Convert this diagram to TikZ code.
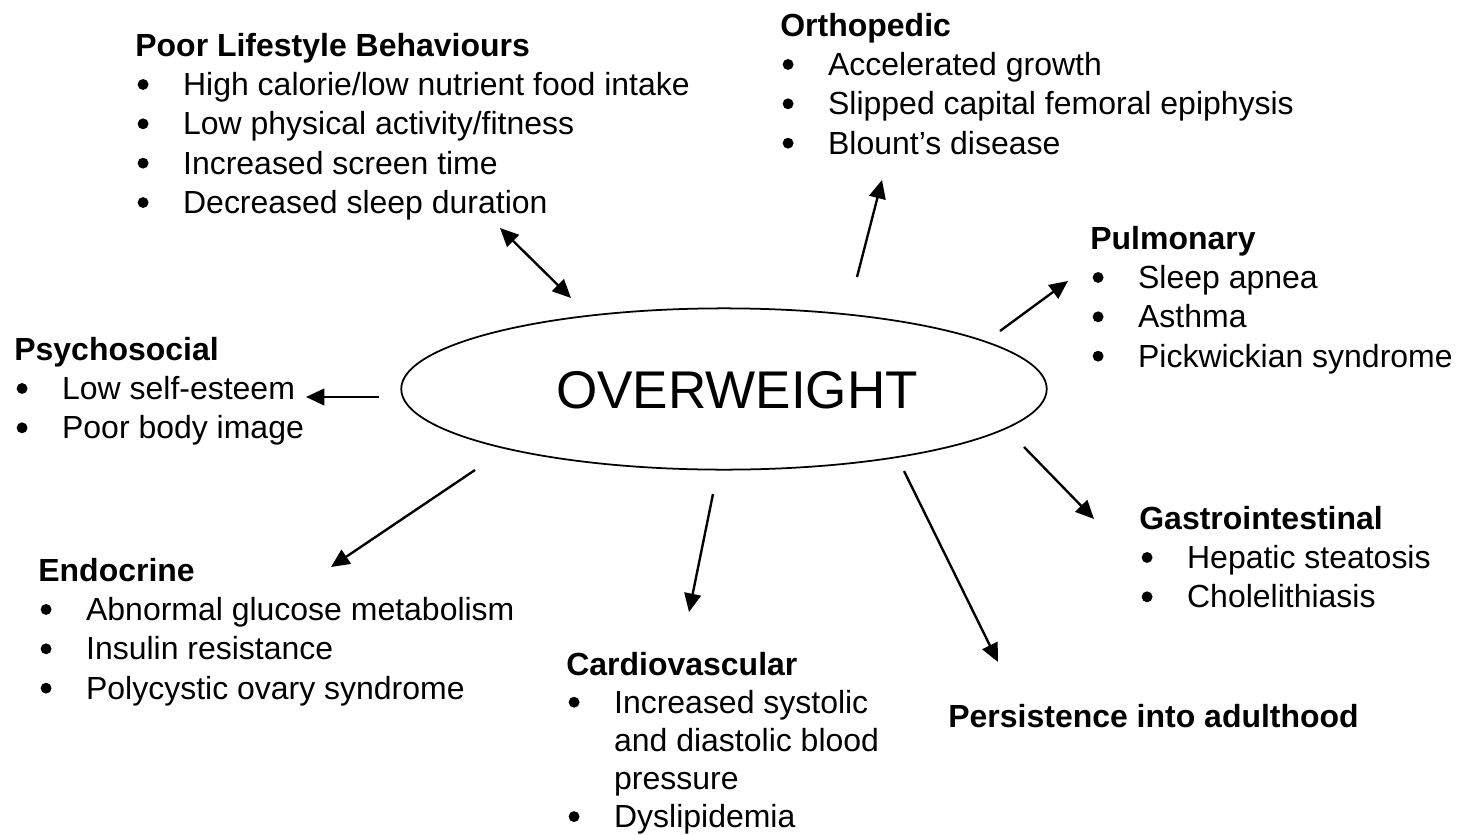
\documentclass[tikz,border=0pt]{standalone}
\usepackage{fontspec}
\setmainfont{Liberation Sans}
\usetikzlibrary{arrows.meta,shapes.geometric}
\newcommand{\bul}{\makebox[27.2pt][l]{\tikz[baseline=0pt]{\path (0,0); \fill (4.4pt,6.2pt) circle (3.1pt);}}}
\newcommand{\hd}[1]{\multicolumn{2}{@{}l@{}}{\textbf{#1}}}
\tikzset{
  grp/.style={anchor=base west, inner sep=0pt, font=\fontsize{18.2}{22.4}\selectfont},
  arr/.style={line width=1.35pt, -{Triangle[length=10.5pt,width=9.5pt]}},
  darr/.style={line width=1.35pt, {Triangle[length=10.5pt,width=9.5pt]}-{Triangle[length=10.5pt,width=9.5pt]}},
}
\begin{document}
\begin{tikzpicture}[x=0.02cm,y=-0.02cm]
\useasboundingbox[fill=white] (0,0) rectangle (1458,835);
% central ellipse
\node[draw, ellipse, line width=1pt, minimum width=367.4pt, minimum height=91.8pt, inner sep=0pt] (ell) at (724,389) {};
\node[inner sep=0pt, font=\fontsize{30.2}{36}\selectfont] (ow) at (737,390) {OVERWEIGHT};
% groups
\node[grp] (life) at (135,56) {\begin{tabular}[t]{@{}l@{}l@{}}
\hd{Poor Lifestyle Behaviours}\\
\bul & High calorie/low nutrient food intake\\
\bul & Low physical activity/fitness\\
\bul & Increased screen time\\
\bul & Decreased sleep duration
\end{tabular}};
\node[grp] (ortho) at (780,36) {\begin{tabular}[t]{@{}l@{}l@{}}
\hd{Orthopedic}\\
\bul & Accelerated growth\\
\bul & Slipped capital femoral epiphysis\\
\bul & Blount’s disease
\end{tabular}};
\node[grp] (pulm) at (1090,249) {\begin{tabular}[t]{@{}l@{}l@{}}
\hd{Pulmonary}\\
\bul & Sleep apnea\\
\bul & Asthma\\
\bul & Pickwickian syndrome
\end{tabular}};
\node[grp] (psych) at (14,360) {\begin{tabular}[t]{@{}l@{}l@{}}
\hd{Psychosocial}\\
\bul & Low self-esteem\\
\bul & Poor body image
\end{tabular}};
\node[grp] (endo) at (38,581) {\begin{tabular}[t]{@{}l@{}l@{}}
\hd{Endocrine}\\
\bul & Abnormal glucose metabolism\\
\bul & Insulin resistance\\
\bul & Polycystic ovary syndrome
\end{tabular}};
\node[grp, font=\fontsize{18.2}{21.7}\selectfont] (cardio) at (566,675) {\begin{tabular}[t]{@{}l@{}l@{}}
\hd{Cardiovascular}\\
\bul & Increased systolic\\
 & and diastolic blood\\
 & pressure\\
\bul & Dyslipidemia
\end{tabular}};
\node[grp] (gastro) at (1139,529) {\begin{tabular}[t]{@{}l@{}l@{}}
\hd{Gastrointestinal}\\
\bul & Hepatic steatosis\\
\bul & Cholelithiasis
\end{tabular}};
\node[grp] (persist) at (948,727) {\textbf{Persistence into adulthood}};
% arrow end points
\coordinate (l1) at (500,228); \coordinate (l2) at (571,298);
\coordinate (o1) at (857,277); \coordinate (o2) at (882,180);
\coordinate (p1) at (1000,331); \coordinate (p2) at (1068,281);
\coordinate (s1) at (379,397); \coordinate (s2) at (306,397);
\coordinate (e1) at (475,470); \coordinate (e2) at (331,567);
\coordinate (c1) at (713,494); \coordinate (c2) at (689,612);
\coordinate (a1) at (904,471); \coordinate (a2) at (998,662);
\coordinate (g1) at (1024,447); \coordinate (g2) at (1094,519);
% arrows
\draw[darr] (l1) -- (l2);
\draw[arr] (o1) -- (o2);
\draw[arr] (p1) -- (p2);
\draw[arr] (s1) -- (s2);
\draw[arr] (e1) -- (e2);
\draw[arr] (c1) -- (c2);
\draw[arr] (a1) -- (a2);
\draw[arr] (g1) -- (g2);
\end{tikzpicture}
\end{document}
